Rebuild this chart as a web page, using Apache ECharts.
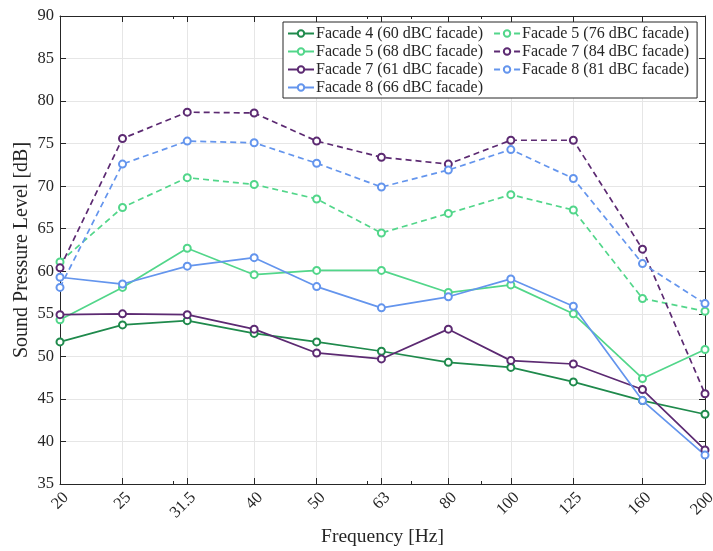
<!DOCTYPE html>
<html>
<head>
<meta charset="utf-8">
<script src="https://cdn.jsdelivr.net/npm/echarts@6/dist/echarts.min.js"></script>
<style>html,body{margin:0;padding:0;background:#fff;}#c{width:713px;height:551px;}</style>
</head>
<body>
<div id="c"></div>
<script>
const freqs = [20, 25, 31.5, 40, 50, 63, 80, 100, 125, 160, 200];
const minorFreqs = [30, 60, 70, 90];
const f4_60 = [51.7, 53.7, 54.2, 52.7, 51.7, 50.6, 49.3, 48.7, 47.0, 44.8, 43.2];
const f5_68 = [54.3, 58.1, 62.7, 59.6, 60.1, 60.1, 57.5, 58.4, 55.0, 47.4, 50.8];
const f7_61 = [54.9, 55.0, 54.9, 53.2, 50.4, 49.7, 53.2, 49.5, 49.1, 46.1, 39.0];
const f8_66 = [59.3, 58.5, 60.6, 61.6, 58.2, 55.7, 57.0, 59.1, 55.9, 44.8, 38.4];
const f5_76 = [61.1, 67.5, 71.0, 70.2, 68.5, 64.5, 66.8, 69.0, 67.2, 56.8, 55.3];
const f7_84 = [60.4, 75.6, 78.7, 78.6, 75.3, 73.4, 72.6, 75.4, 75.4, 62.6, 45.6];
const f8_81 = [58.1, 72.6, 75.3, 75.1, 72.7, 69.9, 71.9, 74.3, 70.9, 60.9, 56.2];

const C4 = '#1f8a4c', C5 = '#52d68a', C7 = '#5c2a72', C8 = '#6495ed';
const FONT = 'Liberation Serif';
const TXT = '#262626';

function pairs(vals) { return freqs.map((f, i) => [f, vals[i]]); }
function mk(name, vals, color, dashed) {
  return {
    name, type: 'line', xAxisIndex: 0, yAxisIndex: 0,
    data: pairs(vals),
    symbol: 'emptyCircle', symbolSize: 7,
    lineStyle: { color, width: 1.7, type: dashed ? [6, 4] : 'solid' },
    itemStyle: { color, borderColor: color, borderWidth: 1.6 },
    emphasis: { disabled: true },
    animation: false
  };
}

const logX = (extra) => Object.assign({
  type: 'log', logBase: 10, min: 20, max: 200,
}, extra);

const chart = echarts.init(document.getElementById('c'), null, { renderer: 'canvas' });
chart.setOption({
  backgroundColor: '#fff',
  animation: false,
  grid: [
    { left: 60, right: 8, top: 16, bottom: 67, containLabel: false, outerBoundsMode: 'none' },
    { left: 60, right: 8, top: 16, bottom: 67, containLabel: false, outerBoundsMode: 'none' }
  ],
  xAxis: [
    logX({
      gridIndex: 0, position: 'bottom',
      name: 'Frequency [Hz]', nameLocation: 'middle', nameGap: 43, nameMoveOverlap: false,
      nameTextStyle: { fontFamily: FONT, fontSize: 19.5, color: TXT },
      axisLine: { show: true, lineStyle: { color: TXT, width: 1 } },
      axisTick: { show: true, inside: true, length: 6, customValues: freqs, lineStyle: { color: TXT } },
      axisLabel: { show: true, customValues: freqs, rotate: 45, margin: 5, align: 'right', verticalAlign: 'top', fontFamily: FONT, fontSize: 16.5, color: TXT, formatter: v => String(v) },
      splitLine: { show: true, lineStyle: { color: '#e6e6e6', width: 1 } },
      minorTick: { show: false }
    }),
    logX({
      gridIndex: 0, position: 'top',
      axisLine: { show: true, lineStyle: { color: TXT, width: 1 } },
      axisTick: { show: true, inside: true, length: 6, customValues: freqs, lineStyle: { color: TXT } },
      axisLabel: { show: false },
      splitLine: { show: false }
    }),
    logX({
      gridIndex: 1, position: 'bottom',
      axisLine: { show: false },
      axisTick: { show: true, inside: true, length: 3, customValues: minorFreqs, lineStyle: { color: TXT } },
      axisLabel: { show: false },
      splitLine: { show: false }
    }),
    logX({
      gridIndex: 1, position: 'top',
      axisLine: { show: false },
      axisTick: { show: true, inside: true, length: 3, customValues: minorFreqs, lineStyle: { color: TXT } },
      axisLabel: { show: false },
      splitLine: { show: false }
    })
  ],
  yAxis: [
    {
      type: 'value', gridIndex: 0, position: 'left', min: 35, max: 90, interval: 5,
      name: 'Sound Pressure Level [dB]', nameLocation: 'middle', nameGap: 28, nameMoveOverlap: false,
      nameTextStyle: { fontFamily: FONT, fontSize: 20, color: TXT },
      axisLine: { show: true, lineStyle: { color: TXT, width: 1 } },
      axisTick: { show: true, inside: true, length: 6, lineStyle: { color: TXT } },
      axisLabel: { fontFamily: FONT, fontSize: 16.5, color: TXT, margin: 6 },
      splitLine: { show: true, lineStyle: { color: '#e6e6e6', width: 1 } }
    },
    {
      type: 'value', gridIndex: 0, position: 'right', min: 35, max: 90, interval: 5,
      axisLine: { show: true, lineStyle: { color: TXT, width: 1 } },
      axisTick: { show: true, inside: true, length: 6, lineStyle: { color: TXT } },
      axisLabel: { show: false },
      splitLine: { show: false }
    },
    {
      type: 'value', gridIndex: 1, min: 35, max: 90, show: false
    }
  ],
  legend: {
    orient: 'vertical', left: 283, top: 22, height: 78,
    padding: [3.5, 0, 2.5, 4],
    itemGap: 2, itemWidth: 26, itemHeight: 8,
    backgroundColor: '#fff', borderColor: TXT, borderWidth: 1,
    textStyle: { fontFamily: FONT, fontSize: 16, color: TXT, padding: [0, 0, 0, -3] },
    formatter: name => name + '  ',
    data: [
      'Facade 4 (60 dBC facade)', 'Facade 5 (68 dBC facade)', 'Facade 7 (61 dBC facade)', 'Facade 8 (66 dBC facade)',
      'Facade 5 (76 dBC facade)', 'Facade 7 (84 dBC facade)', 'Facade 8 (81 dBC facade)'
    ]
  },
  series: [
    mk('Facade 4 (60 dBC facade)', f4_60, C4, false),
    mk('Facade 5 (68 dBC facade)', f5_68, C5, false),
    mk('Facade 7 (61 dBC facade)', f7_61, C7, false),
    mk('Facade 8 (66 dBC facade)', f8_66, C8, false),
    mk('Facade 5 (76 dBC facade)', f5_76, C5, true),
    mk('Facade 7 (84 dBC facade)', f7_84, C7, true),
    mk('Facade 8 (81 dBC facade)', f8_81, C8, true)
  ]
});
</script>
</body>
</html>
